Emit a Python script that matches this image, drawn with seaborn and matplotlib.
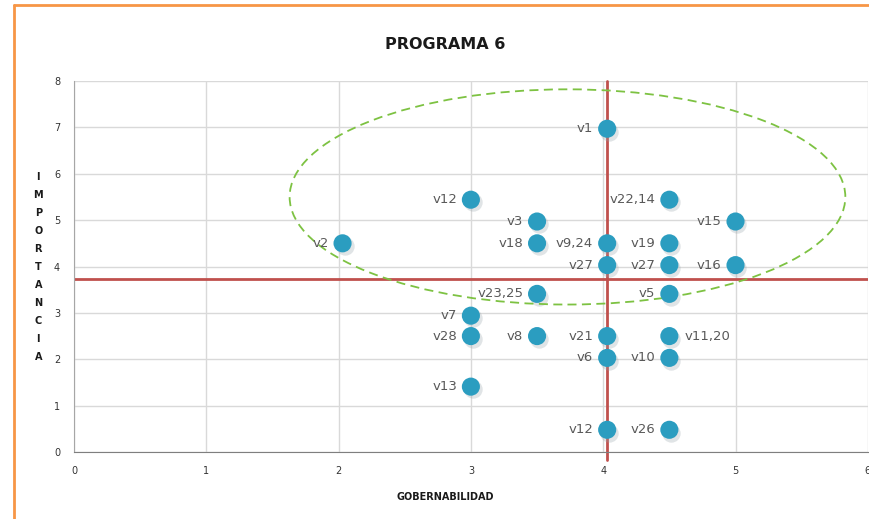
import matplotlib
matplotlib.use("Agg")
import matplotlib.pyplot as plt
import seaborn as sns
import pandas as pd
from matplotlib.patches import Ellipse
from matplotlib.lines import Line2D

# Data
labels = ["v1", "v12", "v22,14", "v3", "v15", "v2", "v18", "v9,24", "v19",
          "v27", "v27", "v16", "v23,25", "v5", "v7", "v28", "v8", "v21",
          "v11,20", "v6", "v10", "v13", "v12", "v26"]
gobernabilidad = [4.03, 3.0, 4.5, 3.5, 5.0, 2.03, 3.5, 4.03, 4.5,
                  4.03, 4.5, 5.0, 3.5, 4.5, 3.0, 3.0, 3.5, 4.03,
                  4.5, 4.03, 4.5, 3.0, 4.03, 4.5]
importancia = [6.97, 5.44, 5.44, 4.97, 4.97, 4.5, 4.5, 4.5, 4.5,
               4.03, 4.03, 4.03, 3.41, 3.41, 2.94, 2.5, 2.5, 2.5,
               2.5, 2.03, 2.03, 1.41, 0.48, 0.48]
right_labels = ["v11,20"]

mean_x = 4.03
mean_y = 3.74

df = pd.DataFrame({"x": gobernabilidad, "y": importancia, "label": labels})

sns.set_style("white")
fig = plt.figure(figsize=(8.7, 5.19), dpi=100)
ax = fig.add_axes([0.085, 0.129, 0.9125, 0.715])

# light shadow under the markers
ax.scatter(df["x"] + 0.015, df["y"] - 0.06, s=175, color="#9aa6ad", alpha=0.3,
           linewidths=0, zorder=3)
sns.scatterplot(data=df, x="x", y="y", ax=ax, s=170, color="#2b9dc0",
                edgecolor="none", zorder=4, legend=False)

for i, row in df.iterrows():
    if row["label"] in right_labels:
        ax.annotate(row["label"], (row["x"], row["y"]), xytext=(11, 0),
                    textcoords="offset points", ha="left", va="center",
                    fontsize=9.5, color="#595959", zorder=5)
    else:
        ax.annotate(row["label"], (row["x"], row["y"]), xytext=(-10, 0),
                    textcoords="offset points", ha="right", va="center",
                    fontsize=9.5, color="#595959", zorder=5)

# mean lines
ax.axhline(mean_y, color="#c0504d", lw=2, zorder=2)
ax.plot([mean_x, mean_x], [-0.18, 8], color="#c0504d", lw=2, zorder=2,
        clip_on=False)

# dashed ellipse
ell = Ellipse((3.73, 5.5), width=4.2, height=4.64, fill=False,
              edgecolor="#7dc242", lw=1.3, ls=(0, (5, 3)), zorder=3)
ax.add_patch(ell)

ax.set_xlim(0, 6)
ax.set_ylim(0, 8)
ax.set_xticks(range(0, 7))
ax.set_yticks(range(0, 9))
ax.grid(True, color="#d9d9d9", lw=1)
ax.set_axisbelow(True)
for s in ["top", "right"]:
    ax.spines[s].set_visible(False)
ax.spines["left"].set_color("#a6a6a6")
ax.spines["bottom"].set_color("#7f7f7f")
ax.tick_params(length=0, labelsize=7, colors="#333333", pad=10)
ax.set_xlabel("")
ax.set_ylabel("")

fig.text(0.512, 0.915, "PROGRAMA 6", ha="center", va="center",
         fontsize=11.5, fontweight="bold", color="#1a1a1a")
fig.text(0.512, 0.042, "GOBERNABILIDAD", ha="center", va="center",
         fontsize=7, fontweight="bold", color="#1a1a1a")
fig.text(0.044, 0.486, "\n".join("IMPORTANCIA"), ha="center", va="center",
         fontsize=7, fontweight="bold", color="#1a1a1a", linespacing=2.0)

# orange frame
fig.add_artist(Line2D([0.016, 1.0], [0.99, 0.99], color="#f79646", lw=2))
fig.add_artist(Line2D([0.016, 0.016], [0.0, 0.99], color="#f79646", lw=2))

fig.savefig("out.png", dpi=100)
